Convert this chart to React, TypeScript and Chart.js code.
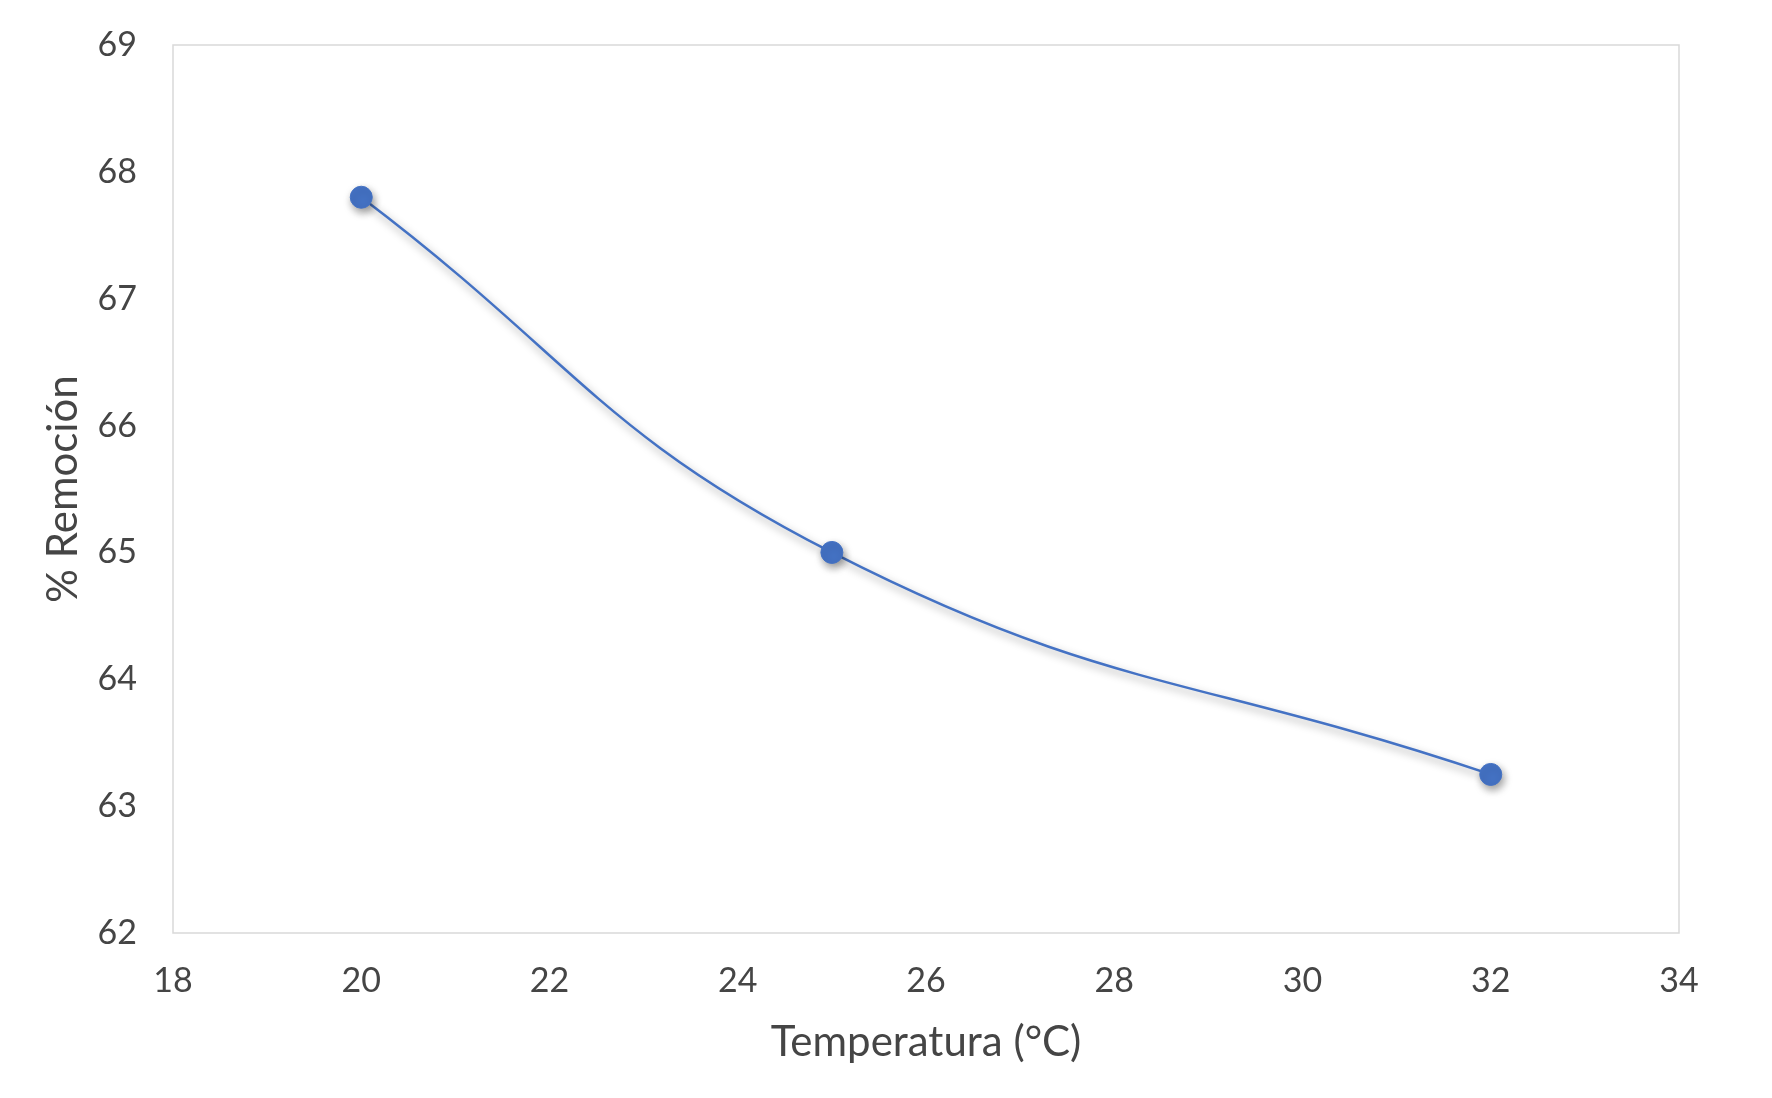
import { useEffect, useRef } from "react";
import { Chart, registerables, Plugin } from "chart.js";

Chart.register(...registerables);

// temperatura (°C) vs % remoción
const temperatures = [20, 25, 32];
const removal = [67.8, 65.0, 63.25];

const xMin = 18;
const xMax = 34;
const xStep = 2;
const yMin = 62;
const yMax = 69;
const yStep = 1;

const xTitle = "Temperatura (°C)";
const yTitle = "% Remoción";

const blue = "#4472C4";
const textColor = "#454545";
const fontFamily = "Lato, 'Open Sans', sans-serif";

// frame around the plot area, Excel style
const frame: Plugin = {
  id: "frame",
  beforeDatasetsDraw(chart) {
    const { ctx, chartArea } = chart;
    ctx.save();
    ctx.strokeStyle = "#d9d9d9";
    ctx.lineWidth = 1.5;
    ctx.strokeRect(chartArea.left, chartArea.top, chartArea.right - chartArea.left, chartArea.bottom - chartArea.top);
    ctx.restore();
    // soft shadow under line and markers
    ctx.save();
    ctx.shadowColor = "rgba(0,0,0,0.4)";
    ctx.shadowBlur = 8;
    ctx.shadowOffsetX = 2;
    ctx.shadowOffsetY = 4;
  },
  afterDatasetsDraw(chart) {
    chart.ctx.restore();
  },
};

const App = () => {
  const canvasRef = useRef<HTMLCanvasElement>(null);
  const chartRef = useRef<Chart | null>(null);

  useEffect(() => {
    if (!canvasRef.current) return;
    const ctx = canvasRef.current.getContext("2d");
    if (!ctx) return;

    chartRef.current = new Chart(ctx, {
      type: "scatter",
      data: {
        datasets: [
          {
            label: yTitle,
            data: temperatures.map((t, i) => ({ x: t, y: removal[i] })),
            showLine: true,
            borderColor: blue,
            borderWidth: 2.5,
            backgroundColor: blue,
            pointBackgroundColor: blue,
            pointBorderColor: blue,
            pointBorderWidth: 1,
            pointRadius: 11,
            tension: 0.45,
          },
        ],
      },
      options: {
        animation: false,
        responsive: true,
        maintainAspectRatio: false,
        layout: { padding: { top: 45, right: 93, left: 0, bottom: 0 } },
        plugins: {
          legend: { display: false },
          tooltip: { enabled: false },
        },
        scales: {
          x: {
            type: "linear",
            min: xMin,
            max: xMax,
            grid: { display: false, drawTicks: false },
            border: { display: false },
            ticks: {
              stepSize: xStep,
              padding: 28,
              color: textColor,
              font: { family: fontFamily, size: 34 },
            },
            title: {
              display: true,
              text: xTitle,
              color: textColor,
              font: { family: fontFamily, size: 42 },
              padding: { top: 0, bottom: 30 },
            },
            afterFit(scale) {
              scale.height = 1098 - 933;
            },
          },
          y: {
            type: "linear",
            min: yMin,
            max: yMax,
            grid: { display: false, drawTicks: false },
            border: { display: false },
            ticks: {
              stepSize: yStep,
              padding: 36,
              color: textColor,
              font: { family: fontFamily, size: 34 },
            },
            title: {
              display: true,
              text: yTitle,
              color: textColor,
              font: { family: fontFamily, size: 42 },
              padding: { top: 38, bottom: 0 },
            },
            afterFit(scale) {
              scale.width = 173;
              // tick padding would otherwise push the plot top down
              scale.paddingTop = 0;
              scale.paddingBottom = 0;
            },
          },
        },
      },
      plugins: [frame],
    });

    return () => {
      if (chartRef.current) {
        chartRef.current.destroy();
        chartRef.current = null;
      }
    };
  }, []);

  return (
    <div style={{ position: "absolute", left: 0, top: 0, width: 1772, height: 1098, background: "#fff" }}>
      <canvas ref={canvasRef} />
    </div>
  );
};

export default App;
